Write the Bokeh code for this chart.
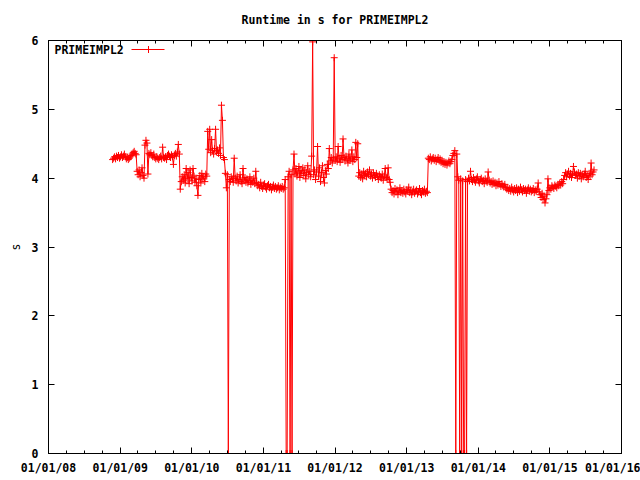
import numpy as np
import pandas as pd
from bokeh.plotting import figure
from bokeh.models import (Range1d, FixedTicker, DatetimeTickFormatter, LinearAxis,
                          DatetimeAxis, Label, Arrow, ColumnDataSource,
                          CustomLabelingPolicy)
from bokeh.embed import file_html
from bokeh.resources import INLINE

# ---------------- data ----------------
series_name = "PRIMEIMPL2"
chart_title = "Runtime in s for PRIMEIMPL2"
first_run = "2008-11-23"      # first benchmark run
run_interval_days = 5         # one run every 5 days

runtime_s = [
    # late 2008 - early 2009
    4.27, 4.29, 4.31, 4.28, 4.32, 4.30, 4.33, 4.29, 4.31, 4.34,
    4.30, 4.32, 4.35, 4.31, 4.28, 4.30, 4.27, 4.29, 4.31, 4.33,
    4.35, 4.37, 4.39, 4.36, 4.34,
    4.10, 4.05, 4.12, 4.02, 4.08, 4.15, 4.04, 4.00, 4.48, 4.55, 4.51, 4.06,
    # 2009
    4.36, 4.34, 4.37, 4.33, 4.31, 4.35, 4.30, 4.28, 4.31, 4.29,
    4.27, 4.30, 4.32, 4.28, 4.45, 4.30, 4.29, 4.31, 4.27, 4.33,
    4.35, 4.32, 4.30, 4.34, 4.31, 4.20, 4.33, 4.36, 4.32, 4.38,
    4.49, 4.35,
    3.84, 3.95, 4.02, 3.97, 4.05, 3.93, 4.14, 3.99, 4.08, 3.92,
    4.12, 4.01, 3.96, 4.14, 4.03, 3.94, 4.00, 3.89, 3.75, 3.98,
    4.04, 3.93, 4.07, 3.99, 4.02, 3.95, 4.06, 4.03,
    # 2010
    4.68, 4.42, 4.71, 4.37, 4.56, 4.40, 4.35, 4.43, 4.71, 4.38,
    4.41, 4.36, 4.44, 4.33, 5.06, 4.84, 4.30, 4.27,
    4.07, 3.86, 4.05, 0.0,
    3.98, 3.95, 4.02, 3.99, 3.94, 4.29, 4.00, 3.96, 4.03, 3.93,
    3.98, 4.05, 3.95, 3.92, 4.14, 3.97, 4.01, 3.94, 3.99, 3.93,
    3.96, 4.02, 3.91, 3.97, 3.94, 4.00, 3.92,
    4.10, 3.93, 3.89, 3.91, 3.86, 3.94, 3.88, 3.85, 3.90, 3.92,
    3.87, 3.84, 3.89, 3.91, 3.86, 3.88, 3.83, 3.87, 3.90, 3.85,
    3.88, 3.84, 3.86, 3.89, 3.83, 3.87, 3.85, 3.88, 3.84, 3.86,
    # 2011
    3.98, 0.0, 0.0, 4.02, 4.10, 0.0, 4.05, 0.0, 4.12, 4.35,
    4.06, 4.14, 4.03, 4.09, 4.17, 4.01, 4.11, 4.07, 4.15, 4.04,
    4.12, 3.99, 4.08, 4.18, 4.05, 4.10, 4.02, 4.32,
    5.98,
    4.05, 4.12, 3.98, 4.09, 4.46, 4.03, 4.15, 3.95, 4.08, 4.18,
    4.01, 3.93, 4.11, 4.06, 4.20, 4.14,
    # 2012
    4.43, 4.25, 4.30, 4.22, 4.28, 5.75, 4.26, 4.31, 4.24, 4.46,
    4.29, 4.23, 4.33, 4.27, 4.57, 4.30, 4.25, 4.32, 4.28, 4.22,
    4.35, 4.26, 4.29, 4.41, 4.24, 4.31, 4.27, 4.52, 4.30, 4.50,
    4.03, 4.08, 4.01, 4.06, 3.99, 4.10, 4.04, 4.07, 4.02, 4.09,
    4.05, 4.12, 4.03, 4.06, 4.00, 4.08, 4.04, 4.01, 4.07, 4.03,
    3.98, 4.05, 4.02, 4.00, 4.06, 3.97, 4.03, 4.14, 4.01, 3.99,
    4.15, 3.98, 3.94,
    # 2013
    3.84, 3.79, 3.82, 3.77, 3.85, 3.80, 3.83, 3.76, 3.81, 3.86,
    3.79, 3.82, 3.78, 3.84, 3.80, 3.77, 3.83, 3.81, 3.87, 3.79,
    3.82, 3.76, 3.80, 3.84, 3.78, 3.81, 3.83, 3.77, 3.80, 3.85,
    3.79, 3.76, 3.82, 3.80, 3.84, 3.78, 3.81, 3.79,
    4.29, 4.27, 4.31, 4.25, 4.28, 4.30, 4.26, 4.29, 4.24, 4.27,
    4.30, 4.25, 4.28, 4.23, 4.26, 4.21, 4.24, 4.20, 4.23, 4.19,
    4.22, 4.25, 4.21, 4.24, 4.27, 4.33, 4.36, 4.40,
    0.0, 4.35, 4.02, 3.97, 0.0, 3.99, 0.0, 3.96, 0.0, 0.0, 3.98, 0.0, 3.95,
    # 2014
    4.00, 3.96, 4.10, 3.98, 3.95, 4.01, 3.97, 3.94, 3.99, 4.02,
    3.96, 3.93, 3.98, 4.00, 3.95, 3.97, 3.92, 3.99, 3.96, 3.94,
    4.09, 3.97, 3.93, 3.95, 3.91, 3.96, 3.92, 3.94, 3.89, 3.93,
    3.90, 3.95, 3.91, 3.88, 3.92, 3.89, 3.87, 3.91, 3.86,
    3.84, 3.86, 3.82, 3.85, 3.81, 3.87, 3.83, 3.80, 3.85, 3.82,
    3.86, 3.79, 3.84, 3.81, 3.87, 3.83, 3.80, 3.85, 3.82, 3.84,
    3.78, 3.83, 3.86, 3.81, 3.84, 3.80, 3.82, 3.85, 3.79, 3.83,
    3.81, 3.84,
    # 2015
    3.93, 3.80, 3.76, 3.72, 3.78, 3.69, 3.74, 3.64, 3.70, 3.76,
    3.99, 3.82, 3.86, 3.84, 3.89, 3.87, 3.85, 3.90, 3.88, 3.86,
    3.91, 3.89, 3.93, 3.90, 3.95, 3.92, 3.98,
    4.04, 4.08, 4.02, 4.06, 4.10, 4.03, 4.07, 4.01, 4.05, 4.17,
    4.09, 4.04, 4.06, 4.00, 4.08, 4.03, 4.07, 3.99, 4.05, 4.02,
    4.06, 4.10, 4.01, 4.04, 3.98, 4.07, 4.03, 4.22, 4.05, 4.09,
    4.12,
]

year_ticks = [2008, 2009, 2010, 2011, 2012, 2013, 2014, 2015, 2016]
minor_months = [4, 7, 10]
y_ticks = [0, 1, 2, 3, 4, 5, 6]
y_min, y_max = 0, 6

# ---------------- build ----------------
run_dates = pd.Timestamp(first_run) + pd.to_timedelta(
    np.arange(len(runtime_s)) * run_interval_days, unit="D")
source = ColumnDataSource(data=dict(date=run_dates, runtime=runtime_s))

def ms(ts):
    return pd.Timestamp(ts).value // 10**6

major_x = [ms(f"{y}-01-01") for y in year_ticks]
minor_x = [ms(f"{y}-{m:02d}-01") for y in year_ticks[:-1] for m in minor_months]

FONT = "DejaVu Sans Mono"
FS = "11.5px"
RED = "#ff0000"

p = figure(width=640, height=480, x_axis_type="datetime",
           output_backend="svg", toolbar_location=None,
           x_range=Range1d(major_x[0], major_x[-1]),
           y_range=Range1d(y_min, y_max),
           min_border_left=48, min_border_right=19,
           min_border_top=39, min_border_bottom=27)

p.background_fill_color = "white"
p.border_fill_color = "white"
p.outline_line_color = "black"
p.outline_line_width = 1
p.xgrid.visible = False
p.ygrid.visible = False

p.title.text = chart_title
p.title.align = "center"
p.title.text_font = FONT
p.title.text_font_size = FS
p.title.text_font_style = "bold"
p.title.text_color = "black"
p.title.standoff = 20

xticker = FixedTicker(ticks=major_x, minor_ticks=minor_x)
yticker = FixedTicker(ticks=y_ticks, minor_ticks=[])
fmt = "%m/%d/%y"
xfmt = DatetimeTickFormatter(microseconds=fmt, milliseconds=fmt, seconds=fmt,
                             minsec=fmt, minutes=fmt, hourmin=fmt, hours=fmt,
                             days=fmt, months=fmt, years=fmt)

xa = p.xaxis[0]
xa.ticker = xticker
xa.formatter = xfmt
ya = p.yaxis[0]
ya.ticker = yticker

for ax in (xa, ya):
    ax.axis_line_color = "black"
    ax.major_tick_line_color = "black"
    ax.minor_tick_line_color = "black"
    ax.major_tick_in = 6
    ax.major_tick_out = 0
    ax.minor_tick_in = 3
    ax.minor_tick_out = 0
    ax.major_label_text_font = FONT
    ax.major_label_text_font_size = FS
    ax.major_label_text_font_style = "bold"
    ax.major_label_text_color = "black"
ya.minor_tick_line_color = None
xa.major_label_standoff = 7
ya.major_label_standoff = 10

ya.axis_label = "s"
ya.axis_label_text_font = FONT
ya.axis_label_text_font_size = FS
ya.axis_label_text_font_style = "normal"
ya.axis_label_text_color = "black"
ya.axis_label_standoff = 6

# mirrored ticks on top and right (no labels drawn)
def no_labels():
    return CustomLabelingPolicy(code="for (const i of indices) { indices.unset(i) }\nreturn indices")

top = DatetimeAxis(ticker=xticker, formatter=xfmt, major_label_text_font_size="1px",
                   major_label_policy=no_labels(),
                   major_tick_in=6, major_tick_out=0, minor_tick_in=3, minor_tick_out=0,
                   axis_line_color="black", major_label_standoff=0)
p.add_layout(top, "above")
right = LinearAxis(ticker=yticker, major_label_text_font_size="1px",
                   major_label_policy=no_labels(),
                   major_tick_in=6, major_tick_out=0, minor_tick_line_color=None,
                   axis_line_color="black", major_label_standoff=0)
p.add_layout(right, "right")

# data: lines + crosses (gnuplot linespoints)
p.line("date", "runtime", source=source, line_color=RED, line_width=1)
p.scatter("date", "runtime", source=source, marker="cross", size=7,
          line_color=RED, line_width=1, fill_color=None)

# key in the top-left corner: text first, then line sample with a cross
frame_h = 414
key_y = frame_h - 10
p.add_layout(Label(x=6, y=key_y, x_units="screen", y_units="screen",
                   text=series_name, text_font=FONT, text_font_size=FS,
                   text_font_style="bold", text_color="black",
                   text_baseline="middle", text_align="left"))
p.add_layout(Arrow(end=None, start=None, x_start=83, x_end=116, y_start=key_y, y_end=key_y,
                   start_units="screen", end_units="screen",
                   line_color=RED, line_width=1))
p.add_layout(Arrow(end=None, start=None, x_start=100, x_end=100,
                   y_start=key_y - 3.5, y_end=key_y + 3.5,
                   start_units="screen", end_units="screen",
                   line_color=RED, line_width=1))

open("out.html", "w").write(file_html(p, INLINE))
